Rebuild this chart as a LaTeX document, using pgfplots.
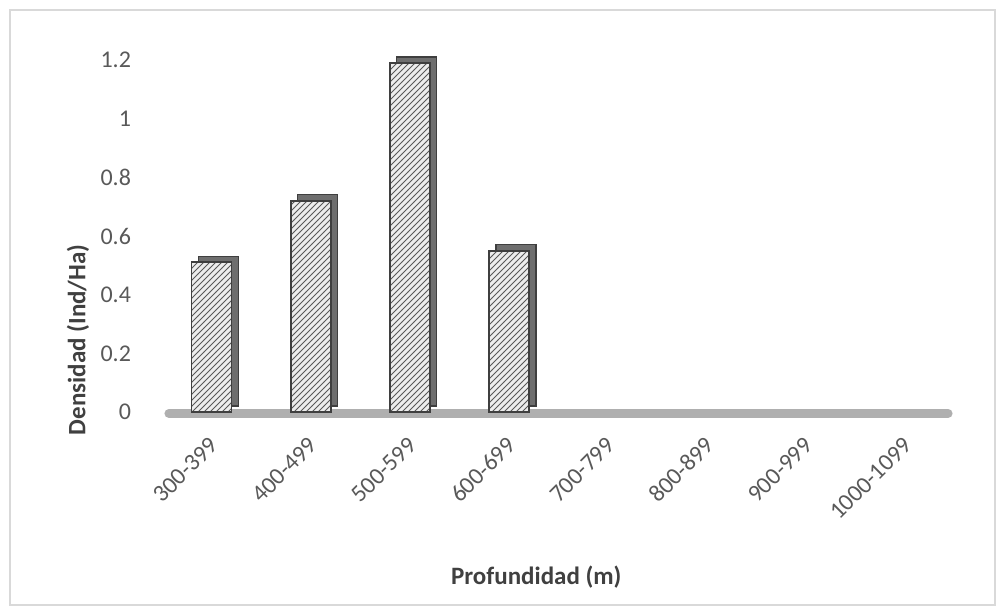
\documentclass[border=0pt]{standalone}
\usepackage{pgfplots}
\pgfplotsset{compat=1.18}
\usepackage{fontspec}
\setmainfont{Carlito}
\usetikzlibrary{patterns}

\definecolor{ticktext}{HTML}{595959}
\definecolor{labeltext}{HTML}{404040}
\definecolor{frameline}{HTML}{D9D9D9}
\definecolor{floorgray}{HTML}{A6A6A6}
\definecolor{barface}{HTML}{EDEDED}
\definecolor{baredge}{HTML}{3F3F3F}
\definecolor{barside}{HTML}{6E6E6E}

% Density per depth class (index 0..7 -> 300-399 ... 1000-1099);
% the classes from 700-799 onwards hold no individuals
\pgfplotstableread{
idx dens
0 0.51
1 0.72
2 1.19
3 0.55
}\densidad

\begin{document}
\begin{tikzpicture}
\useasboundingbox (0,0) rectangle (500pt,305pt);
\draw[frameline, line width=0.8pt] (5pt,2.5pt) rectangle (497.5pt,300pt);
\begin{axis}[
  at={(81pt,99pt)}, anchor=south west,
  scale only axis,
  width=396.5pt, height=176pt,
  xmin=-0.5, xmax=7.5,
  ymin=0, ymax=1.2,
  axis lines=left,
  axis line style={draw=none},
  clip=false,
  xtick={0,...,7},
  xticklabels={300-399,400-499,500-599,600-699,700-799,800-899,900-999,1000-1099},
  ytick={0,0.2,0.4,0.6,0.8,1,1.2},
  yticklabels={0,0.2,0.4,0.6,0.8,1,1.2},
  major tick length=0pt,
  tick style={draw=none},
  /pgf/number format/assume math mode=true,
  tick label style={font=\fontsize{12}{14}\selectfont, text=ticktext},
  yticklabel style={anchor=east, xshift=-12pt},
  xticklabel style={xshift=3.7pt, yshift=-12.2pt, rotate=45, anchor=east},
  xlabel={Profundidad (m)},
  ylabel={Densidad (Ind/Ha)},
  label style={font=\bfseries\fontsize{12.5}{14}\selectfont, text=labeltext},
  xlabel style={at={(rel axis cs:0.472,-0.469)}, anchor=center},
  ylabel style={at={(rel axis cs:-0.106,0.205)}, anchor=center},
  ybar, bar width=20pt,
]
% floor of the chart
\draw[floorgray, line width=4.5pt, line cap=round, opacity=0.9]
  (axis cs:-0.43,-0.005) -- (axis cs:7.43,-0.005);
% depth faces of the bars
\addplot[bar shift=3.5pt, yshift=3pt, fill=barside, draw=baredge, line width=0.6pt]
  table[x=idx, y=dens] {\densidad};
% front faces
\addplot[bar shift=0pt, fill=barface, draw=baredge, line width=0.9pt,
  postaction={pattern=north east lines, pattern color=black!65}]
  table[x=idx, y=dens] {\densidad};
\end{axis}
\end{tikzpicture}
\end{document}
